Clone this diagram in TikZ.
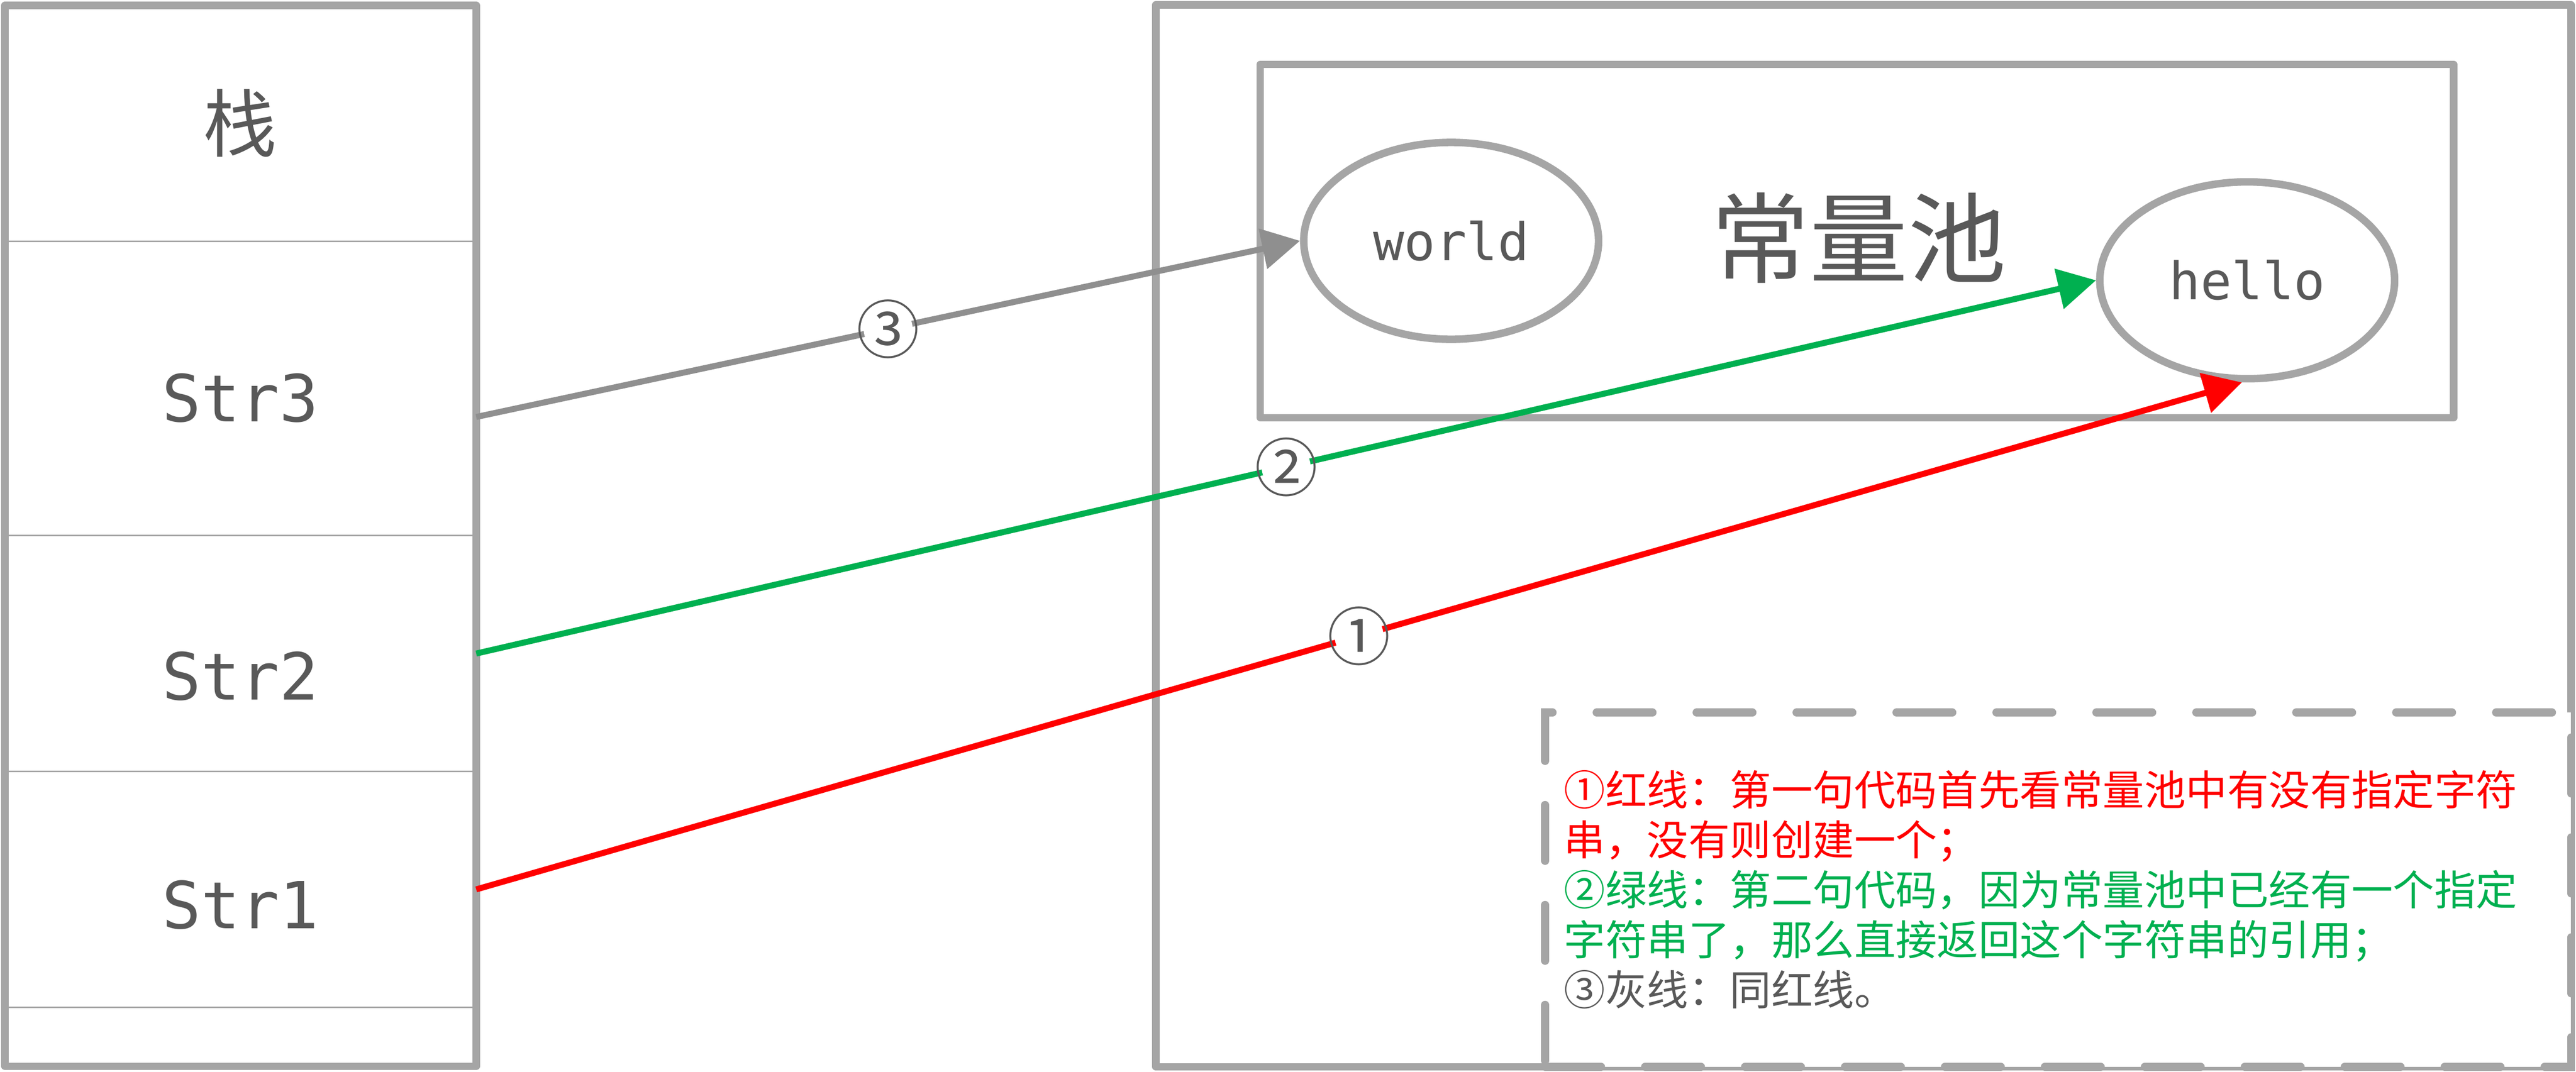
\documentclass[tikz,border=0pt]{standalone}
\usepackage{fontspec}
\setmonofont{DejaVu Sans Mono}
\newfontfamily\cjk{Noto Sans CJK SC}
\usepackage{tikz}
\usetikzlibrary{shapes,arrows.meta,positioning}
\definecolor{red}{RGB}{255, 0, 0}
\definecolor{green}{RGB}{0, 176, 80}
\definecolor{boxgray}{RGB}{165, 165, 165}
\definecolor{edgegray}{RGB}{143, 143, 143}
\definecolor{textgray}{RGB}{89, 89, 89}
\newcommand{\circnum}[1]{\makebox[0pt][c]{\smash{\raisebox{-0.38em}{#1}}}}
\tikzstyle{box} = [rectangle, draw=boxgray, line width=0.15cm, line join=round, inner sep=0pt, outer sep=0pt]
\tikzstyle{row} = [rectangle, draw=none, minimum width=9.43cm, inner sep=0pt, outer sep=0pt]
\tikzstyle{divider} = [draw=boxgray, line width=0.03cm]
\tikzstyle{title} = [text=textgray, font=\cjk\fontsize{42}{50}\selectfont]
\tikzstyle{var} = [text=textgray, font=\ttfamily\fontsize{37}{44}\selectfont]
\tikzstyle{string} = [ellipse, draw=boxgray, line width=0.15cm, minimum width=5.9cm, minimum height=3.94cm, text=textgray, font=\ttfamily\fontsize{29.5}{35}\selectfont]
\tikzstyle{numlabel} = [circle, fill=white, inner sep=0pt, minimum size=0.98cm, text=textgray, font=\cjk\fontsize{36}{36}\selectfont]
\tikzstyle{notebox} = [rectangle, draw=boxgray, fill=white, line width=0.16cm, line cap=round, dash pattern=on 1.12cm off 0.88cm, minimum width=20.53cm, minimum height=7.09cm, inner sep=0pt, text width=19.77cm, align=left, font=\cjk\fontsize{23.6}{28.45}\selectfont]
\tikzstyle{tedge} = [draw, line width=0.12cm, -{Triangle[length=0.76cm, width=0.8cm]}]

\begin{document}
\begin{tikzpicture}

\useasboundingbox (0,0) rectangle (51.55,-21.45);

% stack =============================

\node[box, minimum width=9.43cm, minimum height=21.23cm] (stack) at (4.815,-10.725) {};
\node[row, minimum height=4.72cm, below=0pt of stack.north] (head) {};
\node[row, minimum height=5.89cm, below=0pt of head] (r3) {};
\node[row, minimum height=4.72cm, below=0pt of r3] (r2) {};
\node[row, minimum height=4.72cm, below=0pt of r2] (r1) {};

\draw[divider] (r3.north west) -- (r3.north east);
\draw[divider] (r2.north west) -- (r2.north east);
\draw[divider] (r1.north west) -- (r1.north east);
\draw[divider] (r1.south west) -- (r1.south east);

\node[title] (stackname) at (4.81,-2.46) {栈};
\node[var] (str3) at (4.81,-7.97) {Str3};
\node[var] (str2) at (4.81,-13.53) {Str2};
\node[var] (str1) at (4.81,-18.11) {Str1};

% heap ==============================

\node[box, minimum width=28.32cm, minimum height=21.25cm] (heap) at (37.29,-10.725) {};
\node[box, minimum width=23.88cm, minimum height=7.07cm] (pool) at (37.16,-4.825) {};
\node[text=textgray, font=\cjk\fontsize{56}{60}\selectfont] (poolname) at (37.20,-4.76) {常量池};

\node[string] (world) at (29.04,-4.82) {world};
\node[string] (hello) at (44.97,-5.61) {hello};

% note
\node[notebox] (note) at (41.185,-17.805) {%
\textcolor{red}{①红线：第一句代码首先看常量池中有没有指定字符}\\
\textcolor{red}{串，没有则创建一个；}\\
\textcolor{green}{②绿线：第二句代码，因为常量池中已经有一个指定}\\
\textcolor{green}{字符串了，那么直接返回这个字符串的引用；}\\
\textcolor{textgray}{③灰线：同红线。}};

% edges =============================

\path[tedge, draw=red] (r1.east) -- node[numlabel] {\circnum{①}} (hello.267);
\path[tedge, draw=green] (r2.east) -- node[numlabel] {\circnum{②}} (hello.west);
\path[tedge, draw=edgegray] ([yshift=-0.57cm]r3.east) -- node[numlabel] {\circnum{③}} (world.west);

\end{tikzpicture}
\end{document}
